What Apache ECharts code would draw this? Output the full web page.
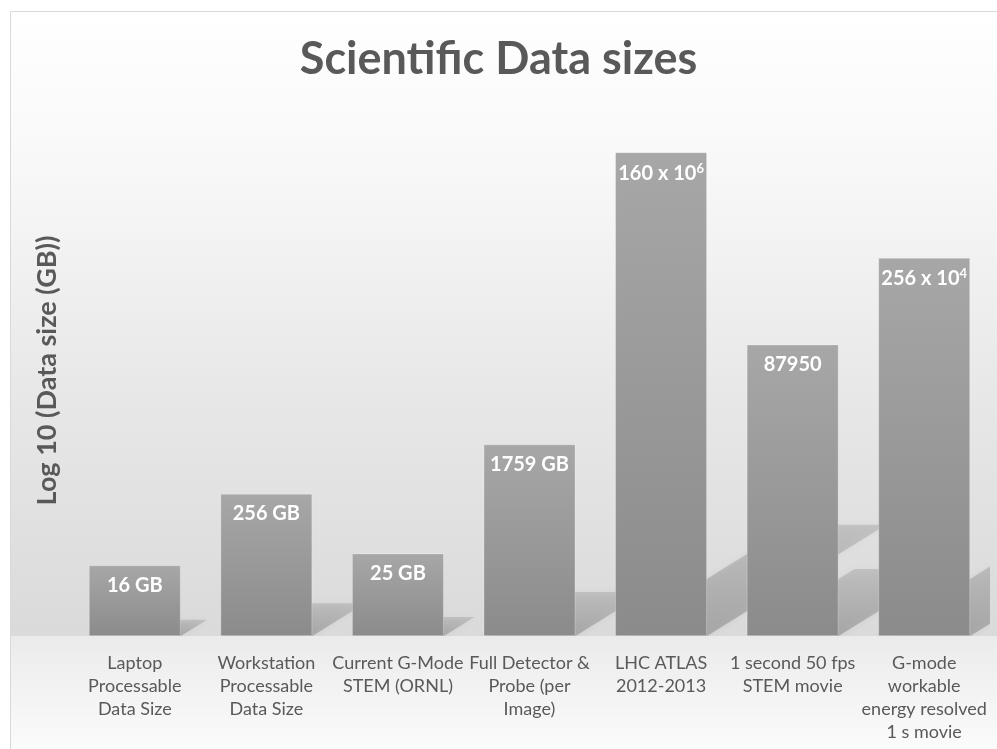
<!DOCTYPE html>
<html>
<head>
<meta charset="utf-8">
<script src="https://cdn.jsdelivr.net/npm/echarts@6/dist/echarts.min.js"></script>
<style>
  html, body { margin: 0; padding: 0; background: #fff; }
  #chart { width: 997px; height: 749px; }
</style>
</head>
<body>
<div id="chart"></div>
<script>
// categories (wrapped like the original)
const categories = [
  'Laptop\nProcessable\nData Size',
  'Workstation\nProcessable\nData Size',
  'Current G-Mode\nSTEM (ORNL)',
  'Full Detector &\nProbe (per\nImage)',
  'LHC ATLAS\n2012-2013',
  '1 second 50 fps\nSTEM movie',
  'G-mode\nworkable\nenergy resolved\n1 s movie'
]
// log10 of the data size in GB
const logSizes = [1.20, 2.41, 1.40, 3.25, 8.20, 4.94, 6.41]
// labels shown on top of the bars
const barLabels = ['16 GB', '256 GB', '25 GB', '1759 GB', '160 x 10{sup|6}', '87950', '256 x 10{sup|4}']

const FONT = 'Lato, "Open Sans", sans-serif'
const BAR_W = 92
const BASE_Y = 636

const chart = echarts.init(document.getElementById('chart'))

const options = {
  backgroundColor: '#ffffff',
  title: {
    text: 'Scientific Data sizes',
    left: 'center',
    top: 32,
    textStyle: {
      color: '#595959',
      fontSize: 45,
      fontWeight: 'bold',
      fontFamily: FONT,
    },
  },
  graphic: [
    {
      type: 'rect',
      z: -10,
      shape: { x: 10, y: 11, width: 990, height: BASE_Y - 11 },
      style: {
        fill: new echarts.graphic.LinearGradient(0, 0, 0, 1, [
          { offset: 0, color: '#ffffff' },
          { offset: 0.25, color: '#f8f8f8' },
          { offset: 0.6, color: '#e8e8e8' },
          { offset: 1, color: '#dadada' },
        ]),
      },
    },
    {
      type: 'rect',
      z: -10,
      shape: { x: 10, y: BASE_Y, width: 990, height: 749 - BASE_Y },
      style: {
        fill: new echarts.graphic.LinearGradient(0, 0, 0, 1, [
          { offset: 0, color: '#ebebeb' },
          { offset: 1, color: '#fbfbfb' },
        ]),
      },
    },
    {
      type: 'rect',
      z: -9,
      shape: { x: 10.5, y: 11.5, width: 995, height: 745 },
      style: { fill: 'none', stroke: '#d9d9d9', lineWidth: 1 },
    },
  ],
  grid: {
    left: 69,
    right: 7,
    top: BASE_Y - 9 * 59,
    bottom: 749 - BASE_Y,
  },
  xAxis: {
    type: 'category',
    data: categories,
    axisLine: { show: false },
    axisTick: { show: false },
    axisLabel: {
      interval: 0,
      margin: 16,
      color: '#595959',
      fontSize: 18,
      lineHeight: 23,
      fontFamily: FONT,
    },
  },
  yAxis: {
    type: 'value',
    min: 0,
    max: 9,
    name: 'Log 10 (Data size (GB))',
    nameLocation: 'middle',
    nameGap: 8,
    nameTextStyle: {
      color: '#595959',
      fontSize: 27,
      fontWeight: 'bold',
      fontFamily: FONT,
    },
    axisLine: { show: false },
    axisTick: { show: false },
    axisLabel: { show: false },
    splitLine: { show: false },
  },
  series: [
    {
      // the bar sheared onto the floor, like a perspective shadow
      type: 'custom',
      z: 1,
      clip: true,
      silent: true,
      data: logSizes.map((v, i) => [i, v]),
      renderItem: (params, api) => {
        const base = api.coord([api.value(0), 0])
        const top = api.coord([api.value(0), api.value(1)])
        const h = base[1] - top[1]
        const xl = base[0] - BAR_W / 2
        const xr = base[0] + BAR_W / 2
        const dx = h * 0.37
        const dy = h * 0.23
        return {
          type: 'polygon',
          shape: {
            points: [
              [xl, base[1]],
              [xr, base[1]],
              [xr + dx, base[1] - dy],
              [xl + dx, base[1] - dy],
            ],
          },
          style: {
            fill: new echarts.graphic.LinearGradient(0, 1, 0, 0, [
              { offset: 0, color: 'rgba(95,95,95,0.36)' },
              { offset: 1, color: 'rgba(95,95,95,0.2)' },
            ]),
            shadowBlur: 6,
            shadowColor: 'rgba(95,95,95,0.3)',
          },
        }
      },
    },
    {
      name: 'Data size',
      type: 'bar',
      z: 3,
      barWidth: BAR_W,
      data: logSizes,
      itemStyle: {
        borderColor: 'rgba(255,255,255,0.25)',
        borderWidth: 1,
        color: new echarts.graphic.LinearGradient(0, 0, 0, 1, [
          { offset: 0, color: '#a7a7a7' },
          { offset: 1, color: '#8b8b8b' },
        ]),
      },
      label: {
        show: true,
        position: 'insideTop',
        distance: 10,
        color: '#ffffff',
        fontSize: 20,
        fontWeight: 'bold',
        fontFamily: FONT,
        formatter: (p) => barLabels[p.dataIndex],
        rich: {
          sup: {
            color: '#ffffff',
            fontSize: 13,
            fontWeight: 'bold',
            fontFamily: FONT,
            verticalAlign: 'top',
            padding: [0, 0, 9, 0],
          },
        },
      },
    },
  ],
}

chart.setOption(options)
window.addEventListener('resize', () => {
  chart.resize()
})
</script>
</body>
</html>
